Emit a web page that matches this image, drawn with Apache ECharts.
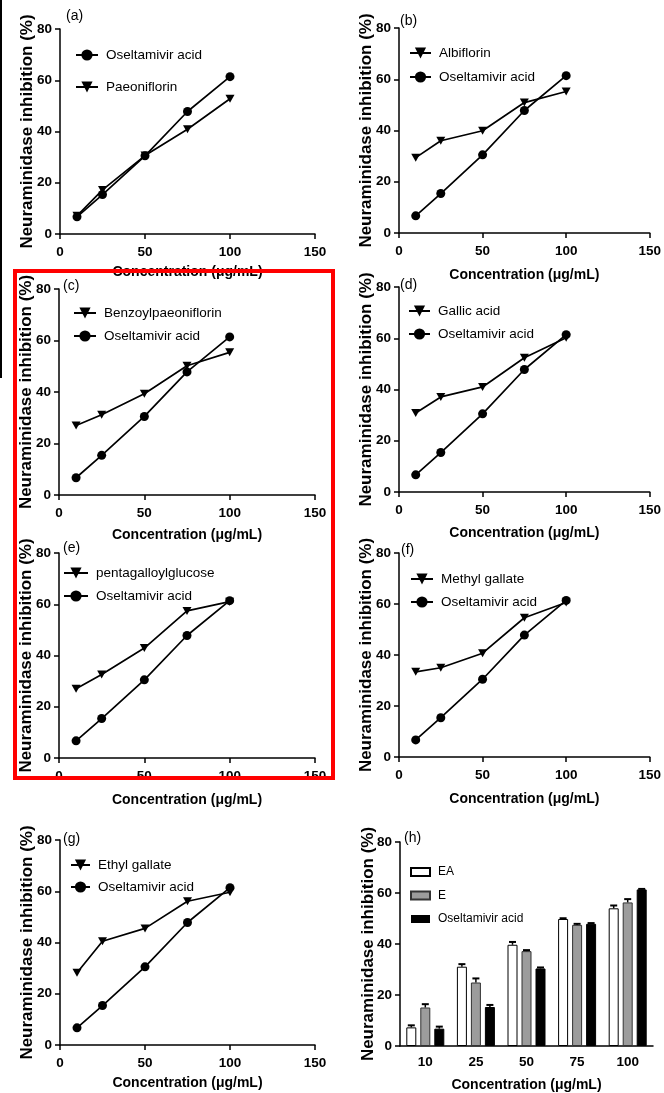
<!DOCTYPE html>
<html>
<head>
<meta charset="utf-8">
<script src="https://cdn.jsdelivr.net/npm/echarts@6/dist/echarts.min.js"></script>
<style>
html,body{margin:0;padding:0;background:#fff;}
#chart{width:664px;height:1093px;}
</style>
</head>
<body>
<div id="chart"></div>
<script>
// ---------- data ----------
const concentrations = [10, 25, 50, 75, 100];
const oseltamivirAcid = [6.7, 15.4, 30.5, 47.8, 61.4];
const paeoniflorin = [7.1, 17.2, 30.6, 40.9, 52.8];
const albiflorin = [29.4, 36.0, 39.9, 50.9, 55.2];
const benzoylpaeoniflorin = [27.0, 31.2, 39.3, 50.2, 55.4];
const gallicAcid = [30.8, 37.1, 41.0, 52.4, 60.2];
const pentagalloylglucose = [27.0, 32.6, 42.9, 57.4, 61.0];
const methylGallate = [33.4, 35.0, 40.7, 54.6, 60.6];
const ethylGallate = [28.2, 40.5, 45.5, 56.1, 59.6];

const barCategories = ['10', '25', '50', '75', '100'];
const eaValues = [7.3, 31.1, 39.7, 49.8, 54.0];
const eaErrors = [0.8, 1.0, 1.1, 0.3, 1.1];
const eValues = [15.1, 24.9, 37.2, 47.5, 56.3];
const eErrors = [1.3, 1.6, 0.4, 0.4, 1.3];
const oaBarValues = [6.8, 15.3, 30.4, 47.9, 61.4];
const oaBarErrors = [0.8, 0.8, 0.4, 0.3, 0.2];

const xTicks = {min: 0, max: 150, interval: 50};
const yTicks = {min: 0, max: 80, interval: 20};
const xTitle = 'Concentration (\u03bcg/mL)';
const yTitle = 'Neuraminidase inhibition (%)';

// ---------- styling / layout ----------
const FONT = "'Liberation Sans', Arial, sans-serif";
const TRI = 'path://M0,0L10,0L5,9Z';
const OA = 'Oseltamivir acid';

const panels = [
  {label:'(a)', grid:[60,29,255,205], lab:[66,9], leg:[75,48,18,22], xg:31,
   items:[[OA, oseltamivirAcid, 'circle'], ['Paeoniflorin', paeoniflorin, TRI]]},
  {label:'(b)', grid:[399,28,254,205], lab:[400,14], leg:[409,46,10,21], xg:35,
   items:[['Albiflorin', albiflorin, TRI], [OA, oseltamivirAcid, 'circle']]},
  {label:'(c)', grid:[59,289,256,206], lab:[63,279], leg:[73,306,9,22], xg:33,
   items:[['Benzoylpaeoniflorin', benzoylpaeoniflorin, TRI], [OA, oseltamivirAcid, 'circle']]},
  {label:'(d)', grid:[399,287,255,205], lab:[400,278], leg:[408,304,9,21], xg:34,
   items:[['Gallic acid', gallicAcid, TRI], [OA, oseltamivirAcid, 'circle']]},
  {label:'(e)', grid:[59,553,256,205], lab:[63,541], leg:[63,566,9,24], xg:35,
   items:[['pentagalloylglucose', pentagalloylglucose, TRI], [OA, oseltamivirAcid, 'circle']]},
  {label:'(f)', grid:[399,553,254,204], lab:[401,543], leg:[410,572,9,22], xg:35,
   items:[['Methyl gallate', methylGallate, TRI], [OA, oseltamivirAcid, 'circle']]},
  {label:'(g)', grid:[60,840,255,205], lab:[63,832], leg:[70,858,8,19], xg:31,
   items:[['Ethyl gallate', ethylGallate, TRI], [OA, oseltamivirAcid, 'circle']]},
  {label:'(h)', grid:[400,842,253,204], lab:[404,831], leg:[410,866,11.5,19], xg:32, bar:true}
];

const axisLineStyle = {color:'#000', width:1.5};
const tickLabel = {color:'#000', fontFamily:FONT, fontWeight:'bold', fontSize:13.5};
const nameStyle = {color:'#000', fontFamily:FONT, fontWeight:'bold', fontSize:14};

const grids = [], xAxes = [], yAxes = [], series = [], legends = [], titles = [];

panels.forEach((p, i) => {
  grids.push({left:p.grid[0], top:p.grid[1], width:p.grid[2], height:p.grid[3], containLabel:false});
  titles.push({text:p.label, left:p.lab[0], top:p.lab[1], padding:0,
    textStyle:{color:'#000', fontFamily:FONT, fontWeight:'normal', fontSize:14}});
  const xCommon = {gridIndex:i,
    axisLine:{show:true, onZero:false, lineStyle:axisLineStyle},
    splitLine:{show:false},
    name:xTitle, nameLocation:'middle', nameGap:p.xg, nameMoveOverlap:false, nameTextStyle:nameStyle};
  if (!p.bar) {
    xAxes.push(Object.assign({type:'value', min:xTicks.min, max:xTicks.max, interval:xTicks.interval,
      axisTick:{show:true, length:5, lineStyle:axisLineStyle},
      axisLabel:Object.assign({margin:11}, tickLabel)}, xCommon));
  } else {
    xAxes.push(Object.assign({type:'category', data:barCategories, boundaryGap:true,
      axisTick:{show:false},
      axisLabel:Object.assign({margin:9}, tickLabel)}, xCommon));
  }
  yAxes.push({type:'value', gridIndex:i, min:yTicks.min, max:yTicks.max, interval:yTicks.interval,
    axisLine:{show:true, onZero:false, lineStyle:axisLineStyle},
    axisTick:{show:true, length:5, lineStyle:axisLineStyle},
    splitLine:{show:false},
    axisLabel:Object.assign({margin:8}, tickLabel),
    name:yTitle, nameLocation:'middle', nameGap:p.bar ? 23 : 24, nameMoveOverlap:false,
    nameTextStyle:{color:'#000', fontFamily:FONT, fontWeight:'bold', fontSize:17}});

  const legBase = {left:p.leg[0], top:p.leg[1], orient:'vertical', itemGap:p.leg[2],
    itemWidth:p.leg[3], itemHeight:14, selectedMode:false, padding:0,
    textStyle:{color:'#000', fontFamily:FONT, fontSize:13.5, padding:[0,0,0,3]}};

  if (!p.bar) {
    p.items.forEach(it => {
      series.push({type:'line', name:it[0], xAxisIndex:i, yAxisIndex:i,
        data:concentrations.map((c, k) => [c, it[1][k]]),
        symbol:it[2], symbolSize: it[2] === 'circle' ? 9 : [9, 8],
        lineStyle:{color:'#000', width:1.7}, itemStyle:{color:'#000'},
        showAllSymbol:true, z:3});
    });
    legends.push(Object.assign(legBase, {data:p.items.map(it => it[0])}));
  } else {
    const barDefs = [
      ['EA', eaValues, eaErrors, {color:'#fff', borderColor:'#000', borderWidth:1}, -14],
      ['E', eValues, eErrors, {color:'#9c9c9c', borderColor:'#333', borderWidth:1}, 0],
      [OA, oaBarValues, oaBarErrors, {color:'#000', borderColor:'#000', borderWidth:1}, 14]
    ];
    barDefs.forEach(d => {
      series.push({type:'bar', name:d[0], xAxisIndex:i, yAxisIndex:i, data:d[1],
        barWidth:10, barGap:'40%', itemStyle:d[3], z:2});
      const off = d[4];
      series.push({type:'custom', name:d[0] + ' error', xAxisIndex:i, yAxisIndex:i, z:4,
        data:d[1].map((v, k) => [k, v, d[2][k]]),
        encode:{x:0, y:1},
        renderItem:function(params, api){
          const c = api.value(0), v = api.value(1), e = api.value(2);
          const b = api.coord([c, v]);
          const t = api.coord([c, v + e]);
          const x = b[0] + off;
          return {type:'group', children:[
            {type:'line', shape:{x1:x, y1:b[1], x2:x, y2:t[1]}, style:{stroke:'#000', lineWidth:1.5}},
            {type:'line', shape:{x1:x - 3.5, y1:t[1], x2:x + 3.5, y2:t[1]}, style:{stroke:'#000', lineWidth:2}}
          ]};
        }});
    });
    legends.push(Object.assign(legBase, {itemHeight:8,
      textStyle:{color:'#000', fontFamily:FONT, fontSize:12, padding:[0,0,0,3]},
      data:[{name:'EA', icon:'rect'}, {name:'E', icon:'rect'}, {name:OA, icon:'rect'}]}));
  }
});

const chart = echarts.init(document.getElementById('chart'), null, {renderer:'canvas'});
chart.setOption({
  backgroundColor:'#fff',
  animation:false,
  title:titles,
  grid:grids,
  xAxis:xAxes,
  yAxis:yAxes,
  legend:legends,
  series:series,
  graphic:[
    {type:'line', shape:{x1:1, y1:0, x2:1, y2:378}, style:{stroke:'#000', lineWidth:2}, z:100},
    {type:'rect', shape:{x:15, y:271, width:318, height:507},
     style:{fill:'none', stroke:'#ff0000', lineWidth:4}, z:100}
  ]
});
</script>
</body>
</html>
